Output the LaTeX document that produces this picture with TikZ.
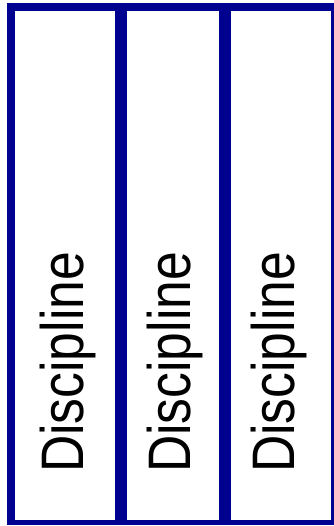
\documentclass[tikz,border=0pt]{standalone}
\usepackage{fontspec}
\setmainfont{Liberation Sans}
\definecolor{bordblue}{RGB}{0,0,144}
\begin{document}
\begin{tikzpicture}[x=1pt,y=-1pt,
  lab/.style={rotate=90,anchor=base west,inner sep=0,text=black}]
\useasboundingbox (0,0) rectangle (333,526);
\fill[bordblue] (7,3) rectangle (339,525);
\fill[white] (15,11) rectangle (115,520);
\fill[white] (127,11) rectangle (219,520);
\fill[white] (231,11) rectangle (331,520);
\node[lab] (l1) at (83,473) {\scalebox{0.86}[1]{\fontsize{60}{60}\selectfont Discipline}};
\node[lab] (l2) at (190,473) {\scalebox{0.86}[1]{\fontsize{60}{60}\selectfont Discipline}};
\node[lab] (l3) at (294,473) {\scalebox{0.86}[1]{\fontsize{60}{60}\selectfont Discipline}};
\end{tikzpicture}
\end{document}
